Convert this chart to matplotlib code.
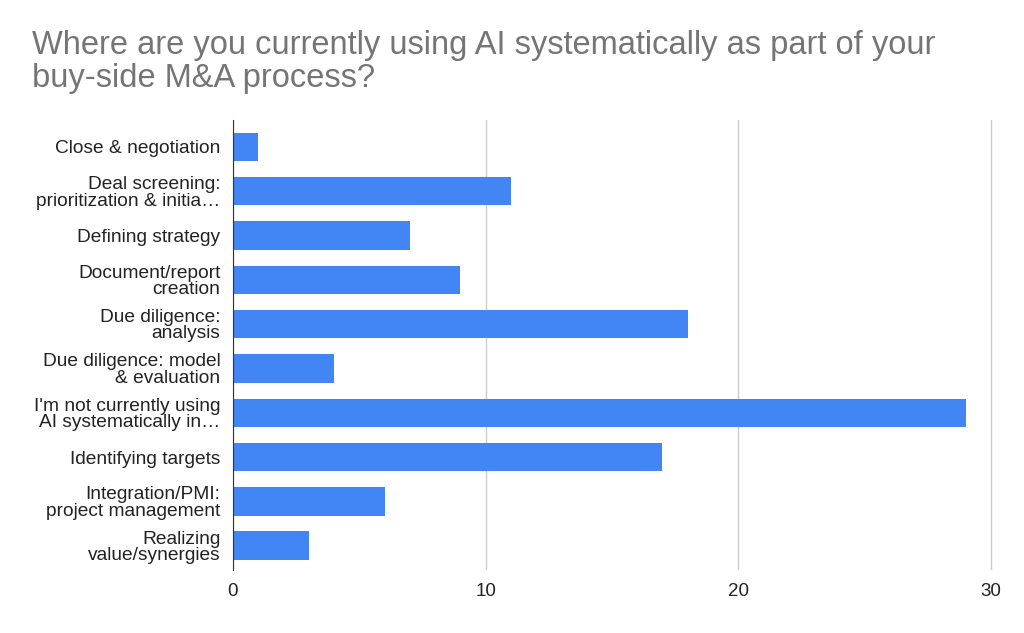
import matplotlib.pyplot as plt

categories = [
    "Close & negotiation",
    "Deal screening:\nprioritization & initia…",
    "Defining strategy",
    "Document/report\ncreation",
    "Due diligence:\nanalysis",
    "Due diligence: model\n& evaluation",
    "I'm not currently using\nAI systematically in…",
    "Identifying targets",
    "Integration/PMI:\nproject management",
    "Realizing\nvalue/synergies",
]
values = [1, 11, 7, 9, 18, 4, 29, 17, 6, 3]
x_ticks = [0, 10, 20, 30]

plt.rcParams["font.family"] = ["Liberation Sans", "DejaVu Sans"]

fig = plt.figure(figsize=(10.24, 6.33), dpi=100)
ax = fig.add_axes([0.2275, 0.0995, 0.7575, 0.7105])

pos = list(range(len(categories)))
ax.barh(pos, values, height=0.64, color="#4285F4", zorder=3)
ax.set_ylim(len(categories) - 0.45, -0.6)
ax.set_xlim(0, 30.7)
ax.set_yticks(pos)
ax.set_yticklabels(categories, fontsize=13.8, color="#222222", linespacing=0.95)
ax.set_xticks(x_ticks)
ax.set_xticklabels([str(t) for t in x_ticks], fontsize=13.5, color="#222222")
ax.tick_params(length=0, pad=9)
ax.grid(axis="x", color="#cccccc", linewidth=1, zorder=0)
for s in ["top", "right", "bottom"]:
    ax.spines[s].set_visible(False)
ax.spines["left"].set_color("#333333")
ax.spines["left"].set_zorder(4)

fig.text(0.031, 0.852,
         "Where are you currently using AI systematically as part of your\nbuy-side M&A process?",
         fontsize=23.5, color="#757575", ha="left", va="bottom", linespacing=1.05)

fig.savefig("out.png", dpi=100)
plt.close(fig)
